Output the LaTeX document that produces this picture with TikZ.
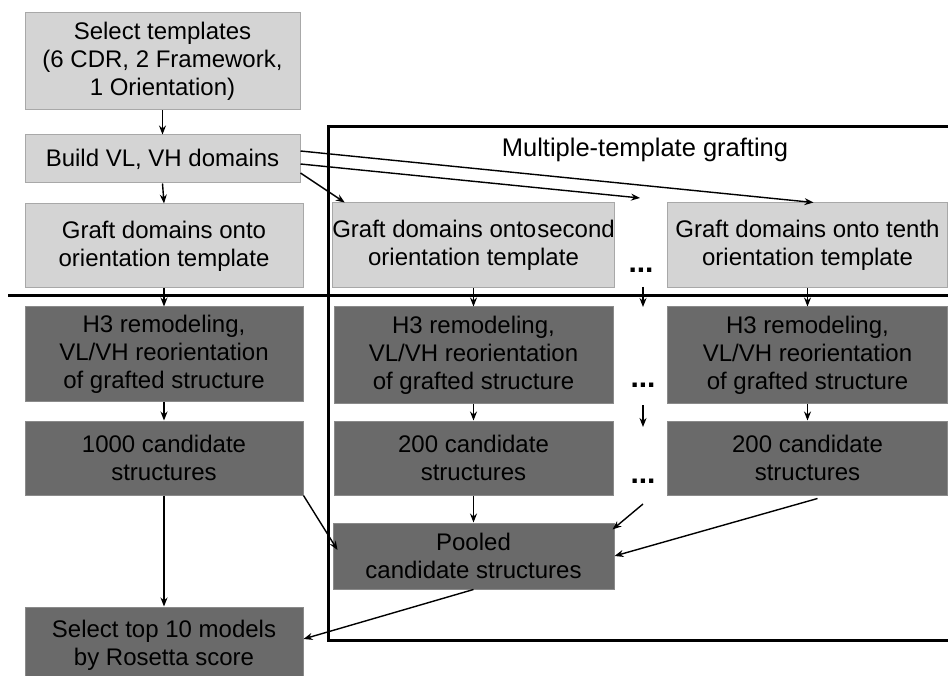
\documentclass[tikz,border=0pt]{standalone}
\usepackage{fontspec}
\setmainfont{Liberation Sans}
\usetikzlibrary{arrows.meta,calc}
\definecolor{lightbox}{HTML}{D4D4D4}
\definecolor{lightedge}{HTML}{A8A8A8}
\definecolor{darkbox}{HTML}{6A6A6A}
\definecolor{darkedge}{HTML}{8A8A8A}
\tikzset{
  lbox/.style={draw=lightedge,line width=1pt,fill=lightbox,align=center,inner sep=0pt,
    font=\fontsize{24}{28}\selectfont},
  dbox/.style={draw=darkedge,line width=1pt,fill=darkbox,align=center,inner sep=0pt,
    font=\fontsize{24}{28}\selectfont},
  arr/.style={line width=1.4pt,-{Stealth[length=9pt,width=7pt]}},
  heavy/.style={line width=3pt},
  dotsnode/.style={font=\fontsize{30}{30}\selectfont\bfseries,inner sep=0pt}
}
\begin{document}
\begin{tikzpicture}[x=1pt,y=-1pt]
\clip (0,0) rectangle (948,676);
\fill[white] (0,0) rectangle (948,676);
% frame and separator
\draw[heavy] (960,127) -- (328,127) -- (328,640) -- (960,640);
\draw[heavy] (8,296) -- (960,296);
\node[font=\fontsize{25.5}{28}\selectfont,inner sep=0pt] (title) at (645,150) {Multiple-template grafting};
% light boxes
\node[lbox,minimum width=275pt,minimum height=97pt] (b1) at (162.5,61.5)
  {Select templates\\(6 CDR, 2 Framework,\\1 Orientation)};
\node[lbox,minimum width=275pt,minimum height=48pt] (b2) at (162.5,159) {Build VL, VH domains};
\node[lbox,minimum width=278pt,minimum height=84pt] (b3) at (164,246)
  {Graft domains onto\\orientation template};
\node[lbox,minimum width=279pt,minimum height=85pt] (s2) at (473.5,245.5)
  {Graft domains onto\hspace{1pt}second\\orientation template};
\node[lbox,minimum width=280pt,minimum height=85pt] (s10) at (807.5,245.5)
  {Graft domains onto tenth\\orientation template};
% dark boxes
\node[dbox,minimum width=278pt,minimum height=94pt] (h1) at (164,354) {H3 remodeling,\\VL/VH reorientation\\of grafted structure};
\node[dbox,minimum width=279pt,minimum height=96pt] (h2) at (473.5,355) {H3 remodeling,\\VL/VH reorientation\\of grafted structure};
\node[dbox,minimum width=280pt,minimum height=96pt] (h3) at (807.5,355) {H3 remodeling,\\VL/VH reorientation\\of grafted structure};
\node[dbox,minimum width=278pt,minimum height=74pt] (c1) at (164,458) {1000 candidate\\structures};
\node[dbox,minimum width=279pt,minimum height=74pt] (c2) at (473.5,458) {200 candidate\\structures};
\node[dbox,minimum width=280pt,minimum height=74pt] (c3) at (807.5,458) {200 candidate\\structures};
\node[dbox,minimum width=281pt,minimum height=66pt] (pool) at (473.5,556) {Pooled\\candidate structures};
\node[dbox,minimum width=278pt,minimum height=76pt] (fin) at (164,645) {Select top 10 models\\by Rosetta score};
% dots
\node[dotsnode] (d1) at (641,270) {...};
\node[dotsnode] (d2) at (643,385) {...};
\node[dotsnode] (d3) at (643,481) {...};
\coordinate (dA) at (640,198);
\coordinate (d1s) at (643,287);
\coordinate (d1t) at (643,307);
\coordinate (d2s) at (643,405);
\coordinate (d2t) at (643,427);
\coordinate (d3s) at (643,504);
% arrows left column
\draw[arr] (b1.south) -- (b2.north);
\draw[arr] (b2.south) -- (b3.north);
\draw[arr] (b3.south) -- (h1.north);
\draw[arr] (h1.south) -- (c1.north);
\draw[arr] (c1.south) -- (fin.north);
% fan out from b2
\draw[arr] ($(b2.east)+(0,14)$) -- ($(s2.north west)+(13,0)$);
\draw[arr] ($(b2.east)+(0,5)$) -- (dA);
\draw[arr] ($(b2.east)+(0,-8)$) -- ($(s10.north)+(6,0)$);
% middle and right columns
\draw[arr] (s2.south) -- (h2.north);
\draw[arr] (s10.south) -- (h3.north);
\draw[arr] (d1s) -- (d1t);
\draw[arr] (h2.south) -- (c2.north);
\draw[arr] (h3.south) -- (c3.north);
\draw[arr] (d2s) -- (d2t);
\draw[arr] (c2.south) -- (pool.north);
\draw[arr] (d3s) -- ($(pool.north east)+(-2,7)$);
\draw[arr] ($(c3.south)+(10,3)$) -- (pool.east);
\draw[arr] (c1.south east) -- ($(pool.west)+(5,-6)$);
\draw[arr] (pool.south) -- ($(fin.east)+(0,-6)$);
\end{tikzpicture}
\end{document}
